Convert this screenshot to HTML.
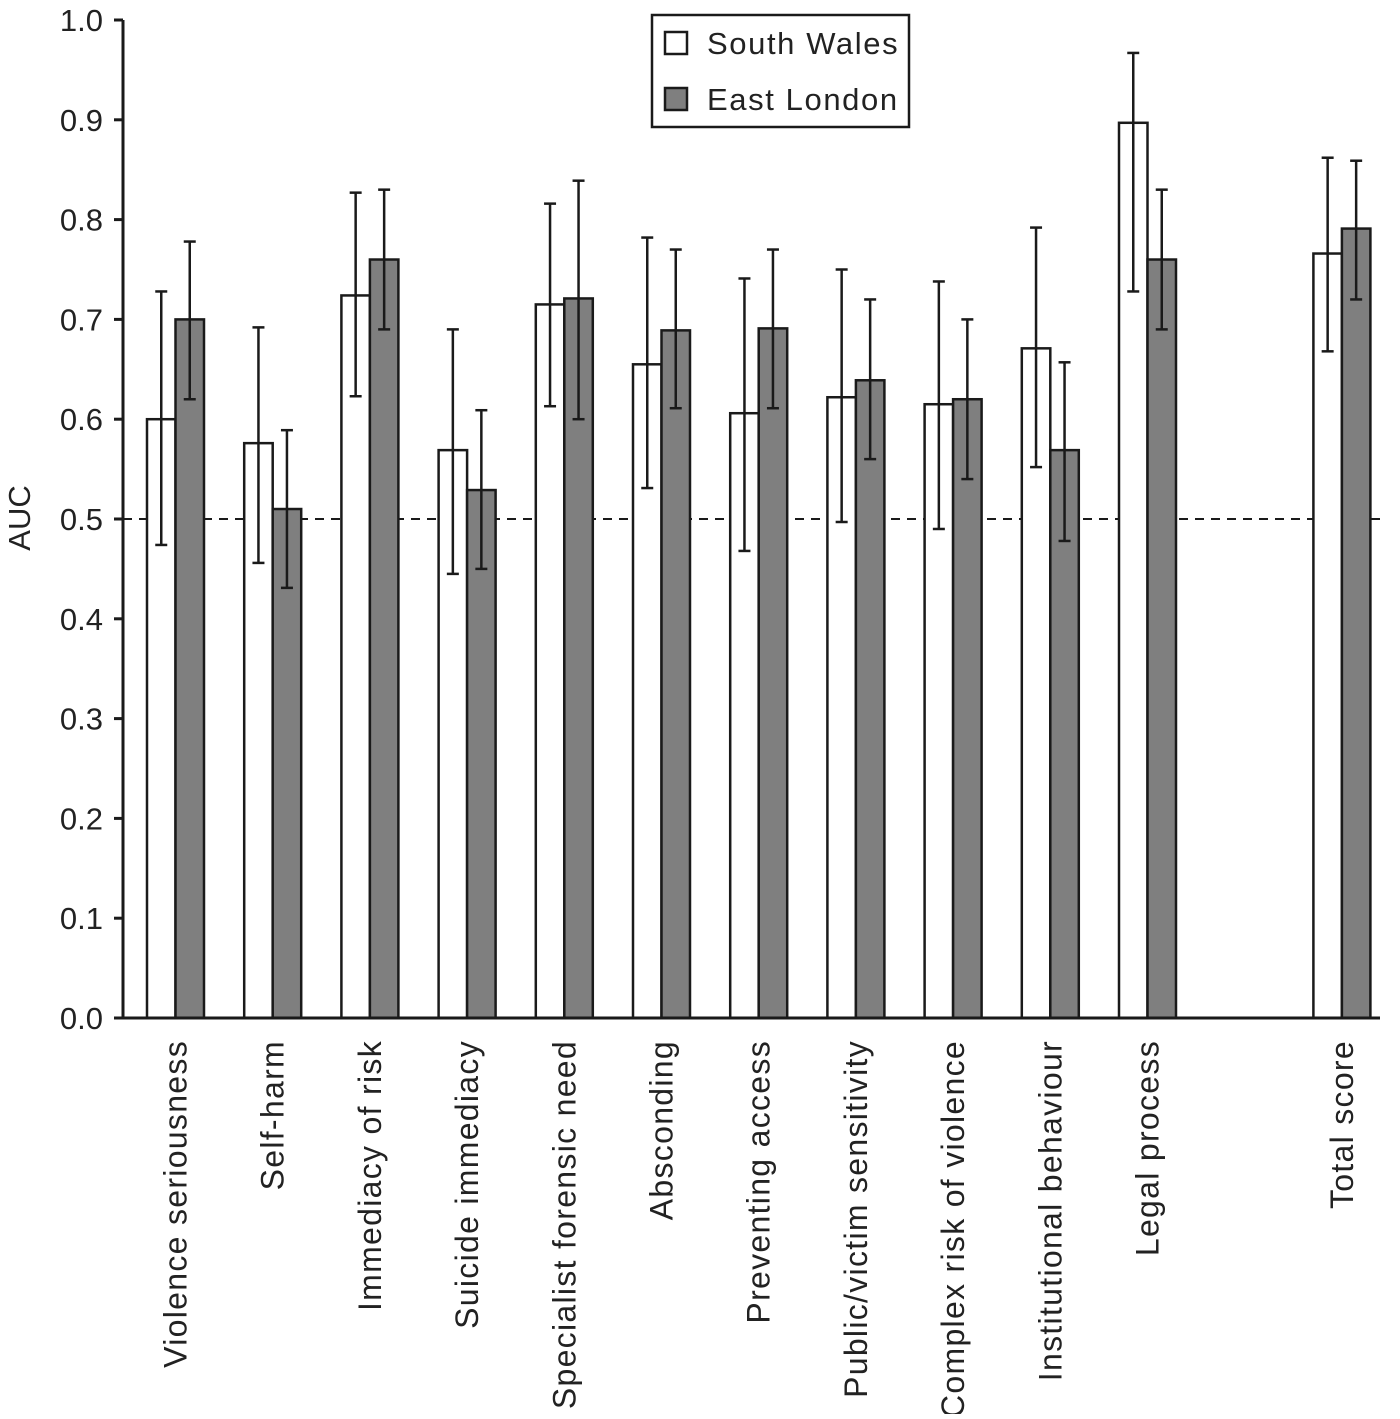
<!DOCTYPE html>
<html><head><meta charset="utf-8"><style>
html,body{margin:0;padding:0;background:#fff;}
svg text{font-family:"Liberation Sans",sans-serif;fill:#222;}
</style></head><body>
<svg id="chart" width="1400" height="1414" xmlns="http://www.w3.org/2000/svg"></svg>
<script>
const categories=["Violence seriousness","Self-harm","Immediacy of risk","Suicide immediacy","Specialist forensic need","Absconding","Preventing access","Public/victim sensitivity","Complex risk of violence","Institutional behaviour","Legal process","","Total score"];
const southWales=[0.600,0.576,0.724,0.569,0.715,0.655,0.606,0.622,0.615,0.671,0.897,null,0.766];
const southWalesLow=[0.474,0.456,0.623,0.445,0.613,0.531,0.468,0.497,0.490,0.552,0.728,null,0.668];
const southWalesHigh=[0.728,0.692,0.827,0.690,0.816,0.782,0.741,0.750,0.738,0.792,0.967,null,0.862];
const eastLondon=[0.700,0.510,0.760,0.529,0.721,0.689,0.691,0.639,0.620,0.569,0.760,null,0.791];
const eastLondonLow=[0.620,0.431,0.690,0.450,0.600,0.611,0.611,0.560,0.540,0.478,0.690,null,0.720];
const eastLondonHigh=[0.778,0.589,0.830,0.609,0.839,0.770,0.770,0.720,0.700,0.657,0.830,null,0.859];
const yTicks=["0.0","0.1","0.2","0.3","0.4","0.5","0.6","0.7","0.8","0.9","1.0"];

const svg=document.getElementById('chart');
const NS="http://www.w3.org/2000/svg";
const y0=1018,y1=20,axX=123,axEnd=1380;
const yS=v=>y0-(y0-y1)*v;
const xG=i=>147+i*97.2;
const bw=28.5;
function mk(tag,attrs,parent){const e=document.createElementNS(NS,tag);for(const k in attrs)e.setAttribute(k,attrs[k]);(parent||svg).appendChild(e);return e;}

let ref=mk('line',{x1:axX,x2:axEnd,y1:yS(0.5),y2:yS(0.5),stroke:'#1a1a1a','stroke-width':2,'stroke-dasharray':'9,7'});



function errBar(x,lo,hi,name){
  const g=mk('g',{stroke:'#1a1a1a','stroke-width':2.5,fill:'none'});
  
  
  mk('line',{x1:x,x2:x,y1:yS(lo),y2:yS(hi)},g);
  mk('line',{x1:x-6,x2:x+6,y1:yS(hi),y2:yS(hi)},g);
  mk('line',{x1:x-6,x2:x+6,y1:yS(lo),y2:yS(lo)},g);
}
categories.forEach((c,i)=>{
  if(southWales[i]==null)return;
  const x=xG(i);
  let r1=mk('rect',{x:x,y:yS(southWales[i]),width:bw,height:yS(0)-yS(southWales[i]),fill:'#fff',stroke:'#1a1a1a','stroke-width':2.5});
  
  
  let r2=mk('rect',{x:x+bw,y:yS(eastLondon[i]),width:bw,height:yS(0)-yS(eastLondon[i]),fill:'#7f7f7f',stroke:'#1a1a1a','stroke-width':2.5});
  
  
  errBar(x+bw/2,southWalesLow[i],southWalesHigh[i],'error-bar-south-wales');
  errBar(x+bw*1.5,eastLondonLow[i],eastLondonHigh[i],'error-bar-east-london');
  const tx=x+bw+11;
  let t=mk('text',{x:0,y:0,'font-size':32,'letter-spacing':1.3,'text-anchor':'end',transform:`translate(${tx},1040) rotate(-90)`});
  t.textContent=c;
  
  
});
let ax=mk('path',{d:`M${axX},${y1} V${y0} H${axEnd}`,stroke:'#1a1a1a','stroke-width':3,fill:'none'});


yTicks.forEach((l,i)=>{
  const v=parseFloat(l);
  let tk=mk('line',{x1:axX-9,x2:axX,y1:yS(v),y2:yS(v),stroke:'#1a1a1a','stroke-width':3});
  
  
  let t=mk('text',{x:103,y:yS(v)+11,'font-size':31,'text-anchor':'end'});
  t.textContent=l;
  
  
});
let yt=mk('text',{x:0,y:0,'font-size':31,'text-anchor':'middle',transform:'translate(30,518) rotate(-90)'});
yt.textContent='AUC';


const lg=mk('g',{});


mk('rect',{x:652,y:15,width:257,height:112,fill:'#fff',stroke:'#1a1a1a','stroke-width':2.5},lg);
[["South Wales","#fff",43],["East London","#7f7f7f",99]].forEach(([n,f,cy])=>{
  const e=mk('g',{},lg);
  
  
  mk('rect',{x:665,y:cy-11,width:22,height:22,fill:f,stroke:'#1a1a1a','stroke-width':2.5},e);
  const t=mk('text',{x:707,y:cy+11,'font-size':31,'letter-spacing':1.6},e);t.textContent=n;
});
</script>
</body></html>
